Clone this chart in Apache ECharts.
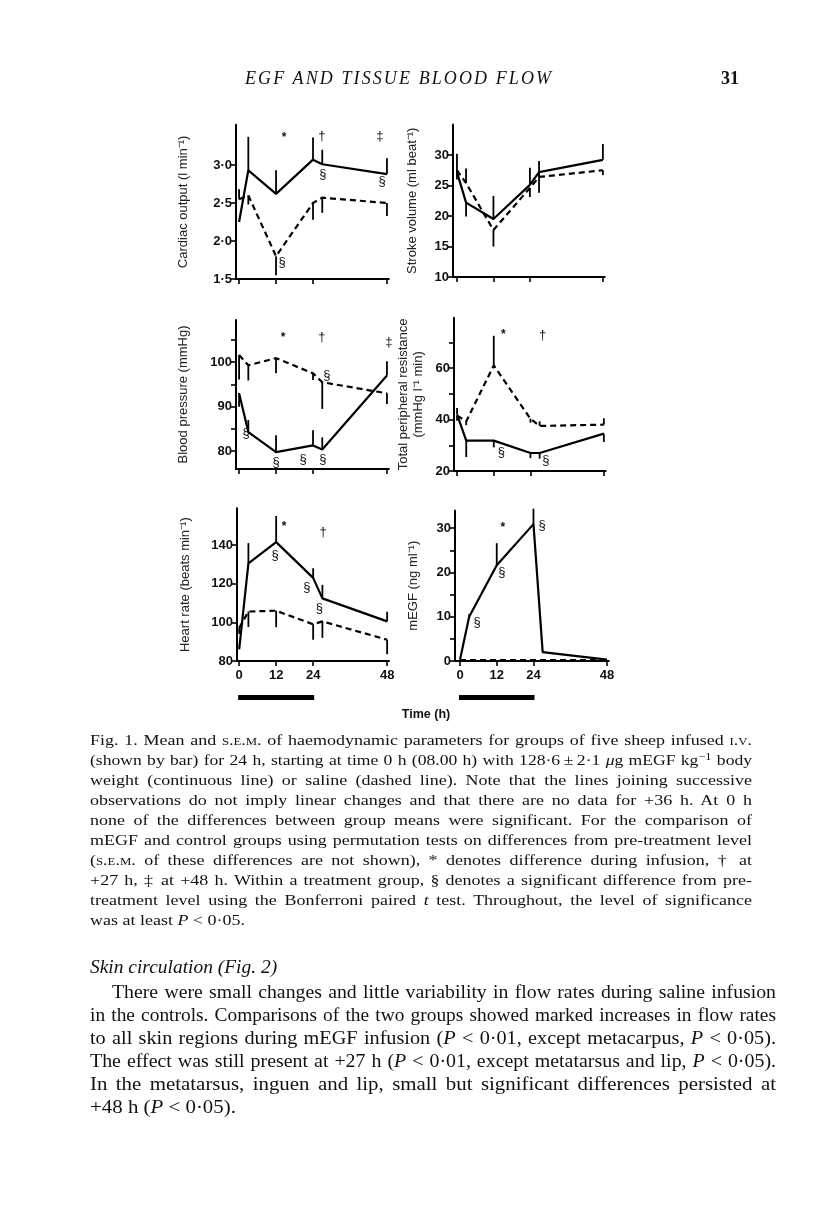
<!DOCTYPE html>
<html>
<head>
<meta charset="utf-8">
<script src="https://cdn.jsdelivr.net/npm/echarts@6/dist/echarts.min.js"></script>
<style>
  html, body { margin:0; padding:0; background:#fff; }
  #page { position:relative; width:816px; height:1219px; overflow:hidden; background:#fff; }
  #chart { position:absolute; left:0; top:0; width:816px; height:1219px; }
  .t { position:absolute; font-family:"Liberation Serif","DejaVu Serif",serif; color:#111; white-space:nowrap; transform-origin:0 50%; }
  .j { text-align:justify; text-align-last:justify; }
  .sc { font-variant:small-caps; }
  .cap { font-size:15.5px; line-height:20px; height:20px; left:90px; width:662px; }
  .body { font-size:18px; line-height:23px; height:23px; left:90px; width:686px; }
  sup { font-size:0.7em; line-height:0; vertical-align:0.45em; }
</style>
</head>
<body>
<div id="page">
  <div id="chart"></div>

  <div class="t" style="left:245px; top:68px; font-size:18px; font-style:italic; letter-spacing:2.1px;">EGF AND TISSUE BLOOD FLOW</div>
  <div class="t" style="left:721px; top:68px; font-size:18px; font-weight:bold;">31</div>

  <div class="t cap j" style="top:730px;">Fig. 1. Mean and <span class="sc">s.e.m.</span> of haemodynamic parameters for groups of five sheep infused <span class="sc">i.v.</span></div>
  <div class="t cap j" style="top:750px;">(shown by bar) for 24 h, starting at time 0 h (08.00 h) with 128·6&#8201;±&#8201;2·1 <i>μ</i>g mEGF kg<sup>−1</sup> body</div>
  <div class="t cap j" style="top:770px;">weight (continuous line) or saline (dashed line). Note that the lines joining successive</div>
  <div class="t cap j" style="top:790px;">observations do not imply linear changes and that there are no data for +36 h. At 0 h</div>
  <div class="t cap j" style="top:810px;">none of the differences between group means were significant. For the comparison of</div>
  <div class="t cap j" style="top:830px;">mEGF and control groups using permutation tests on differences from pre-treatment level</div>
  <div class="t cap j" style="top:850px;">(<span class="sc">s.e.m.</span> of these differences are not shown), * denotes difference during infusion, † at</div>
  <div class="t cap j" style="top:870px;">+27 h, ‡ at +48 h. Within a treatment group, § denotes a significant difference from pre-</div>
  <div class="t cap j" style="top:890px;">treatment level using the Bonferroni paired <i>t</i> test. Throughout, the level of significance</div>
  <div class="t cap last" style="top:910px;">was at least <i>P</i> &lt; 0·05.</div>

  <div class="t body j" style="top:981px; left:112px; width:664px;">There were small changes and little variability in flow rates during saline infusion</div>
  <div class="t body j" style="top:1004px;">in the controls. Comparisons of the two groups showed marked increases in flow rates</div>
  <div class="t body j" style="top:1027px;">to all skin regions during mEGF infusion (<i>P</i> &lt; 0·01, except metacarpus, <i>P</i> &lt; 0·05).</div>
  <div class="t body j" style="top:1050px;">The effect was still present at +27 h (<i>P</i> &lt; 0·01, except metatarsus and lip, <i>P</i> &lt; 0·05).</div>
  <div class="t body j" style="top:1073px;">In the metatarsus, inguen and lip, small but significant differences persisted at</div>
  <div class="t body last" style="top:1096px;">+48 h (<i>P</i> &lt; 0·05).</div>
  <div class="t" style="left:90px; top:956px; font-size:18px; line-height:23px; font-style:italic; transform:scaleX(1.08);">Skin circulation (Fig. 2)</div>
</div>

<script>
// ---------------- DATA ----------------
const times = [0, 3, 12, 24, 27, 48];          // sampling times (h)
const xTicks = [0, 12, 24, 48];                 // time-axis ticks
const infusion = [0, 24];                       // infusion bar (h)

// Cardiac output (l min-1)
const coEGF    = [2.25, 2.93, 2.62, 3.07, 3.01, 2.88];
const coEGFErr = [0, 0.44, 0.31, 0.29, 0.19, 0.21];
const coSal    = [2.55, 2.60, 1.80, 2.50, 2.57, 2.50];
const coSalErr = [0.13, -0.12, -0.25, -0.22, -0.20, -0.17];
const coTicks  = [1.5, 2.0, 2.5, 3.0];
const coAnn    = [[14.6, 3.36, '*'], [26.9, 3.38, '†'], [45.7, 3.38, '‡'], [27.2, 2.87, '§'], [46.4, 2.78, '§'], [14.0, 1.72, '§']];

// Stroke volume (ml beat-1)
const svEGF    = [27.2, 22.2, 19.5, 25.1, 27.2, 29.2];
const svEGFErr = [3.0, -2.3, 3.8, 2.8, -3.4, 2.6];
const svSal    = [27.5, 25.4, 17.7, 24.6, 26.4, 27.5];
const svSalErr = [-1.5, 2.4, -2.7, -1.5, 2.6, -0.8];
const svTicks  = [10, 15, 20, 25, 30];
const svAnn    = [];

// Blood pressure (mmHg)
const bpEGF    = [93.0, 84.3, 79.8, 81.3, 80.4, 97.0];
const bpEGFErr = [-3.0, 2.7, 3.8, 3.4, 2.7, 3.2];
const bpSal    = [101.6, 99.3, 100.9, 97.5, 95.5, 93.0];
const bpSalErr = [-5.5, -3.4, -3.4, -1.5, -6.0, -2.4];
const bpTicks  = [80, 85, 90, 95, 100, 105];
const bpLabels = [80, 90, 100];
const bpAnn    = [[14.3, 105.6, '*'], [26.9, 105.6, '†'], [48.6, 104.5, '‡'], [2.3, 84.0, '§'], [12.0, 77.5, '§'], [20.8, 78.2, '§'], [27.2, 78.2, '§'], [28.5, 97.0, '§']];

// Total peripheral resistance (mmHg l-1 min)
const tprEGF    = [42.0, 31.8, 31.8, 27.0, 27.0, 34.5];
const tprEGFErr = [2.5, -6.4, -2.6, -2.0, -2.2, -3.2];
const tprSal    = [41.5, 39.3, 61.0, 40.3, 37.5, 38.0];
const tprSalErr = [-2.0, -1.5, 11.5, -1.5, 1.8, 2.5];
const tprTicks  = [20, 30, 40, 50, 60, 70];
const tprLabels = [20, 40, 60];
const tprAnn    = [[15.1, 72.8, '*'], [28.0, 72.8, '†'], [14.5, 27.4, '§'], [29.0, 24.3, '§']];

// Heart rate (beats min-1)
const hrEGF    = [86.0, 130.5, 141.5, 123.0, 112.4, 100.5];
const hrEGFErr = [0, 10.5, 13.5, 5.0, 7.0, 5.0];
const hrSal    = [97.0, 105.6, 106.0, 99.0, 100.5, 91.0];
const hrSalErr = [-3.0, -8.0, -8.5, -8.0, -8.5, -7.5];
const hrTicks  = [80, 100, 120, 140];
const hrAnn    = [[14.6, 149.3, '*'], [27.2, 146.7, '†'], [11.7, 134.8, '§'], [22.0, 118.3, '§'], [26.0, 107.4, '§']];

// mEGF (ng ml-1)
const megfEGF    = [0.3, 10.0, 21.6, 30.9, 2.0, 0.3];
const megfEGFErr = [0, 0.6, 5.0, 3.5, 0, 0];
const megfSal    = [0.2, 0.2, 0.2, 0.2, 0.2, 0.2];
const megfSalErr = [0, 0, 0, 0, 0, 0];
const megfTicks  = [0, 5, 10, 15, 20, 25, 30];
const megfLabels = [0, 10, 20, 30];
const megfAnn    = [[14.0, 30.2, '*'], [5.6, 8.6, '§'], [13.7, 19.9, '§'], [26.8, 30.7, '§']];

// ---------------- TEXT FITTING (justified lines, widened like the original typeface) ----------------
(function fitLines() {
  let lastS = 1.08;
  document.querySelectorAll('.t.j, .t.last').forEach(el => {
    if (el.classList.contains('j')) {
      const target = parseFloat(getComputedStyle(el).width);
      el.style.textAlign = 'left';
      el.style.textAlignLast = 'left';
      const span = document.createElement('span');
      span.innerHTML = el.innerHTML;
      el.innerHTML = '';
      el.appendChild(span);
      const w = span.getBoundingClientRect().width;
      el.innerHTML = span.innerHTML;
      el.style.textAlign = '';
      el.style.textAlignLast = '';
      const s = Math.max(1, Math.min(1.16, target * 0.975 / w));
      el.style.width = (target / s) + 'px';
      el.style.transform = 'scaleX(' + s.toFixed(4) + ')';
      lastS = s;
    } else {
      el.style.transform = 'scaleX(' + lastS.toFixed(4) + ')';
    }
  });
})();

// ---------------- CHART ----------------
const SANS = '"Liberation Sans", Arial, Helvetica, sans-serif';
const dot = v => String(v).replace('.', '·');
const co = v => v.toFixed(1).replace('.', '·');

const panels = [
  { grid:{left:236, top:124.7, width:152.8, height:154.3}, x:[-1, 48.6], y:[1.5, 3.53], ticks:coTicks, labels:coTicks, fmt:co,
    name:'Cardiac output (l min⁻¹)', gap:45, egf:coEGF, egfErr:coEGFErr, sal:coSal, salErr:coSalErr, ann:coAnn, xl:false },
  { grid:{left:453, top:124.5, width:151.7, height:152.5}, x:[-1.3, 48.6], y:[10, 35], ticks:svTicks, labels:svTicks, fmt:dot,
    name:'Stroke volume (ml beat⁻¹)', gap:33, egf:svEGF, egfErr:svEGFErr, sal:svSal, salErr:svSalErr, ann:svAnn, xl:false },
  { grid:{left:236, top:319.9, width:152.8, height:149.1}, x:[-1, 48.6], y:[76, 109.5], ticks:bpTicks, labels:bpLabels, fmt:dot,
    name:'Blood pressure (mmHg)', gap:45, egf:bpEGF, egfErr:bpEGFErr, sal:bpSal, salErr:bpSalErr, ann:bpAnn, xl:false },
  { grid:{left:454, top:317.8, width:151.7, height:153.2}, x:[-1.0, 48.6], y:[20, 79.5], ticks:tprTicks, labels:tprLabels, fmt:dot,
    name:'Total peripheral resistance\n(mmHg l⁻¹ min)', gap:28, egf:tprEGF, egfErr:tprEGFErr, sal:tprSal, salErr:tprSalErr, ann:tprAnn, xl:false },
  { grid:{left:237, top:508.3, width:152, height:152.7}, x:[-0.7, 48.6], y:[80, 159], ticks:hrTicks, labels:hrTicks, fmt:dot,
    name:'Heart rate (beats min⁻¹)', gap:44, egf:hrEGF, egfErr:hrEGFErr, sal:hrSal, salErr:hrSalErr, ann:hrAnn, xl:true },
  { grid:{left:455, top:510.4, width:153.8, height:150.6}, x:[-1.63, 48.6], y:[0, 34], ticks:megfTicks, labels:megfLabels, fmt:dot,
    name:'mEGF (ng ml⁻¹)', gap:34, egf:megfEGF, egfErr:megfEGFErr, sal:megfSal, salErr:megfSalErr, ann:megfAnn, xl:true }
];

const grids = [], xAxes = [], yAxes = [], series = [];
const axisLine = { show:true, onZero:false, lineStyle:{ color:'#000', width:2 } };
const tick = (vals) => ({ show:true, inside:false, length:5, customValues:vals, lineStyle:{ color:'#000', width:1.6 } });

panels.forEach((p, i) => {
  grids.push(Object.assign({ containLabel:false }, p.grid));
  xAxes.push({
    type:'value', gridIndex:i, min:p.x[0], max:p.x[1], axisLine,
    axisTick: tick(xTicks),
    axisLabel: { show:p.xl, customValues:xTicks, margin:8, fontFamily:SANS, fontSize:13, fontWeight:'bold', color:'#111' },
    splitLine:{ show:false }
  });
  yAxes.push({
    type:'value', gridIndex:i, min:p.y[0], max:p.y[1], axisLine,
    axisTick: tick(p.ticks),
    axisLabel: { show:true, customValues:p.labels, formatter:p.fmt, margin:4, fontFamily:SANS, fontSize:13, fontWeight:'bold', color:'#111' },
    splitLine:{ show:false },
    name:p.name, nameLocation:'middle', nameGap:p.gap, nameRotate:90,
    nameTextStyle:{ fontFamily:SANS, fontSize:13, color:'#222', lineHeight:15 }
  });
  const pts = arr => times.map((t, k) => [t, arr[k]]);
  series.push({ type:'line', xAxisIndex:i, yAxisIndex:i, data:pts(p.sal), showSymbol:false, symbol:'none', silent:true,
    lineStyle:{ color:'#000', width:2.2, type:[6, 4] }, z:3 });
  series.push({ type:'line', xAxisIndex:i, yAxisIndex:i, data:pts(p.egf), showSymbol:false, symbol:'none', silent:true,
    lineStyle:{ color:'#000', width:2.2 }, z:4 });
  [[p.egf, p.egfErr], [p.sal, p.salErr]].forEach(([v, e]) => {
    series.push({
      type:'custom', xAxisIndex:i, yAxisIndex:i, silent:true, clip:false, z:5,
      data: times.map((t, k) => [t, v[k], e[k]]).filter(d => d[2] !== 0),
      renderItem: (params, api) => {
        const a = api.coord([api.value(0), api.value(1)]);
        const b = api.coord([api.value(0), api.value(1) + api.value(2)]);
        return { type:'line', shape:{ x1:a[0], y1:a[1], x2:b[0], y2:b[1] }, style:{ stroke:'#000', lineWidth:1.8 } };
      }
    });
  });
  const ann = p.ann;
  series.push({
    type:'custom', xAxisIndex:i, yAxisIndex:i, silent:true, clip:false, z:6,
    data: ann.map(a => [a[0], a[1]]),
    renderItem: (params, api) => {
      const c = api.coord([api.value(0), api.value(1)]);
      const s = ann[params.dataIndex][2];
      return { type:'text', x:c[0], y:c[1], style:{ text:s, fill:'#111', font:(s === '*' ? 'bold 12px ' : '13px ') + SANS, align:'center', verticalAlign:'middle' } };
    }
  });
});

const chart = echarts.init(document.getElementById('chart'), null, { renderer:'canvas', width:816, height:1219 });
chart.setOption({
  animation:false, backgroundColor:'#fff',
  grid:grids, xAxis:xAxes, yAxis:yAxes, series
});

// infusion bars under the bottom panels, positioned through the axes' own scales
const gfx = [];
[4, 5].forEach(g => {
  const x0 = chart.convertToPixel({ xAxisIndex:g }, infusion[0]);
  const x1 = chart.convertToPixel({ xAxisIndex:g }, infusion[1]);
  gfx.push({ type:'rect', shape:{ x:x0 - 1, y:695, width:x1 - x0 + 2, height:5 }, style:{ fill:'#000' } });
});
gfx.push({ type:'text', x:426, y:715, style:{ text:'Time (h)', font:'bold 12.5px ' + SANS, fill:'#111', align:'center', verticalAlign:'middle' } });
chart.setOption({ graphic: gfx });
</script>
</body>
</html>
